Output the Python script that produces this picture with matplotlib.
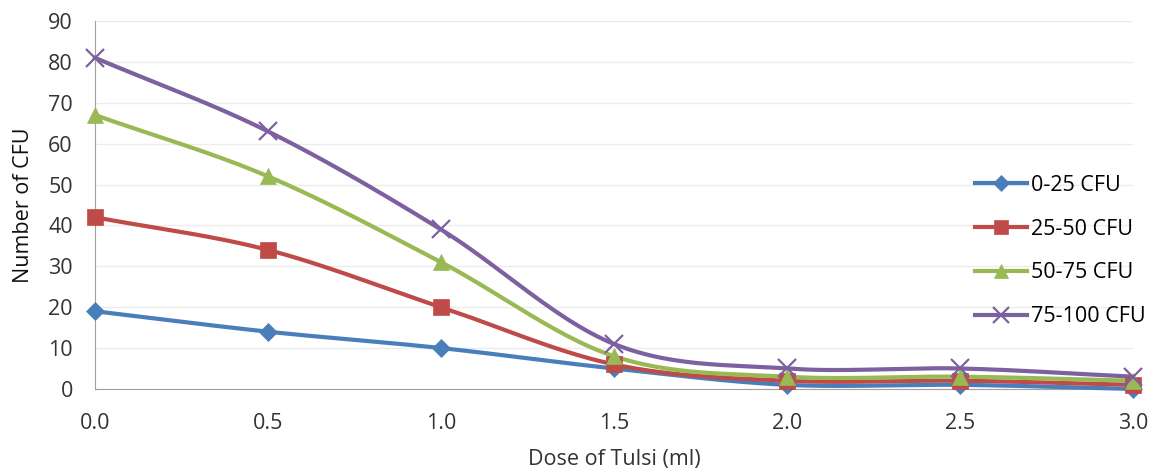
import numpy as np
import matplotlib
matplotlib.use('Agg')
import matplotlib.pyplot as plt

# данные с графика
dose = [0.0, 0.5, 1.0, 1.5, 2.0, 2.5, 3.0]
cfu_0_25 = [19, 14, 10, 5, 1, 1, 0]
cfu_25_50 = [42, 34, 20, 6, 2, 2, 1]
cfu_50_75 = [67, 52, 31, 8, 3, 3, 2]
cfu_75_100 = [81, 63, 39, 11, 5, 5, 3]
labels = ['0-25 CFU', '25-50 CFU', '50-75 CFU', '75-100 CFU']
x_ticks = [0.0, 0.5, 1.0, 1.5, 2.0, 2.5, 3.0]
y_ticks = list(range(0, 91, 10))


def smooth(x, y, n=30):
    # сглаживание как в Excel (Catmull-Rom)
    x = np.asarray(x, float)
    y = np.asarray(y, float)
    px = np.concatenate([[2 * x[0] - x[1]], x, [2 * x[-1] - x[-2]]])
    py = np.concatenate([[2 * y[0] - y[1]], y, [2 * y[-1] - y[-2]]])
    xs, ys = [], []
    t = np.linspace(0, 1, n)
    for i in range(1, len(px) - 2):
        for p, out in ((px, xs), (py, ys)):
            p0, p1, p2, p3 = p[i - 1], p[i], p[i + 1], p[i + 2]
            out.extend(0.5 * (2 * p1 + (-p0 + p2) * t
                              + (2 * p0 - 5 * p1 + 4 * p2 - p3) * t ** 2
                              + (-p0 + 3 * p1 - 3 * p2 + p3) * t ** 3))
    return xs, ys


plt.rcParams['font.family'] = ['Open Sans', 'DejaVu Sans']
fs = 15.5

fig = plt.figure(figsize=(11.67, 4.72), dpi=100)
ax = fig.add_axes([0.0814, 0.176, 0.8895, 0.7795])

series = [cfu_0_25, cfu_25_50, cfu_50_75, cfu_75_100]
colors = ['#4a7ebb', '#be4b48', '#98b954', '#7d60a0']
markers = ['D', 's', '^', 'x']
msizes = [9, 12, 12, 13]

for vals, lab, c, m, ms in zip(series, labels, colors, markers, msizes):
    sx, sy = smooth(dose, vals)
    ax.plot(sx, sy, color=c, lw=3, zorder=3)
    ax.plot(dose, vals, linestyle='none', marker=m, color=c, ms=ms,
            mew=1.6 if m == 'x' else 0.5, zorder=4)
    ax.plot([], [], color=c, lw=3, marker=m, ms=ms * 0.85,
            mew=1.6 if m == 'x' else 0.5, label=lab)

ax.set_xlim(0, 3)
ax.set_ylim(0, 90)
ax.set_xticks(x_ticks)
ax.set_xticklabels([f'{v:.1f}' for v in x_ticks])
ax.set_yticks(y_ticks)
ax.tick_params(length=0, labelsize=fs, colors='#333333')
ax.tick_params(axis='y', pad=16)
ax.tick_params(axis='x', pad=17)
ax.grid(axis='y', color='#ececec', lw=1)
ax.set_axisbelow(True)
for s in ['top', 'right']:
    ax.spines[s].set_visible(False)
for s in ['left', 'bottom']:
    ax.spines[s].set_color('#a0a0a0')
ax.set_xlabel('Dose of Tulsi (ml)', fontsize=fs, color='#333333', labelpad=11)
ax.set_ylabel('Number of CFU', fontsize=fs, color='#111111', labelpad=10)
for line in ax.get_lines():
    line.set_clip_on(False)

leg = ax.legend(loc='center left', bbox_to_anchor=(0.848, 0.375), frameon=False,
                fontsize=fs, handlelength=2.4, labelspacing=1.06,
                handletextpad=0.2, borderaxespad=0, borderpad=0)

fig.savefig('out.png', dpi=100)
